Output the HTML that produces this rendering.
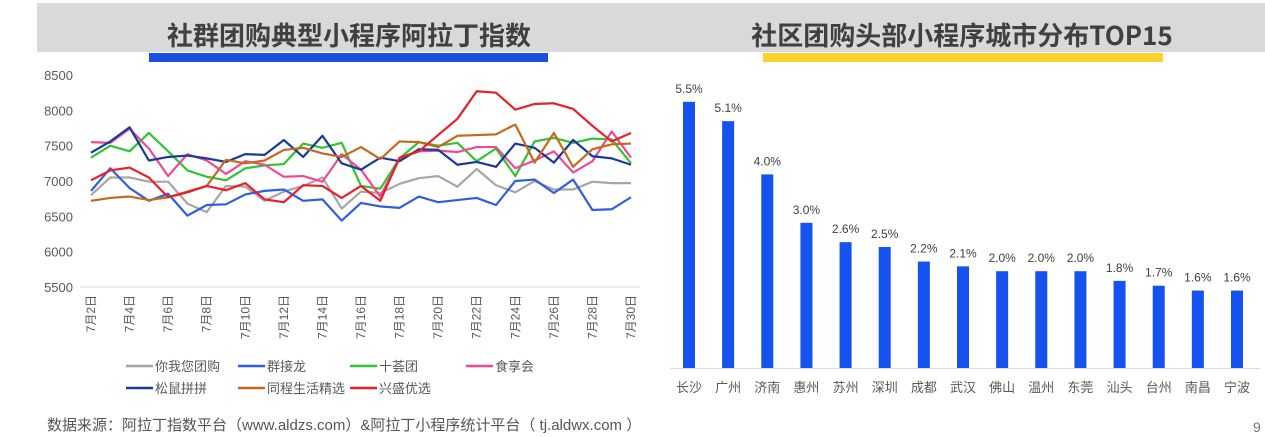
<!DOCTYPE html>
<html><head><meta charset="utf-8"><style>
body{margin:0;width:1265px;height:437px;background:#fff;overflow:hidden;font-family:"Liberation Sans","Noto Sans CJK SC",sans-serif;position:relative}
.abs{position:absolute}
</style></head><body>
<div class="abs" style="left:37px;top:3px;width:1228px;height:49px;background:#d9d9d9"></div>
<div class="abs" style="left:109px;top:16px;width:480px;text-align:center;font-size:26px;font-weight:bold;color:#404040;font-family:'Noto Sans CJK SC',sans-serif">社群团购典型小程序阿拉丁指数</div>
<div class="abs" style="left:149px;top:53px;width:399px;height:9px;background:#1b4fe0"></div>
<div class="abs" style="left:712px;top:16px;width:500px;text-align:center;font-size:26px;font-weight:bold;color:#404040;font-family:'Noto Sans CJK SC',sans-serif">社区团购头部小程序城市分布TOP15</div>
<div class="abs" style="left:763px;top:53px;width:400px;height:9px;background:#fcd22c"></div>
<svg class="abs" style="left:0;top:0" width="1265" height="437" id="svg"></svg>
<div class="abs" style="left:47px;top:414px;font-size:15px;color:#555">数据来源：阿拉丁指数平台（www.aldzs.com）&amp;阿拉丁小程序统计平台（ tj.aldwx.com ）</div>
<div class="abs" style="left:1253px;top:419px;font-size:14px;color:#777">9</div>
<script>
const days=["7月2日","7月3日","7月4日","7月5日","7月6日","7月7日","7月8日","7月9日","7月10日","7月11日","7月12日","7月13日","7月14日","7月15日","7月16日","7月17日","7月18日","7月19日","7月20日","7月21日","7月22日","7月23日","7月24日","7月25日","7月26日","7月27日","7月28日","7月29日","7月30日"];
const yTicks=[5500,6000,6500,7000,7500,8000,8500];
const seriesNames=["你我您团购","群接龙","十荟团","食享会","松鼠拼拼","同程生活精选","兴盛优选"];
const seriesColors=["#a6a6a6","#2f5ee0","#2ec52e","#f0489a","#1a3a9a","#c8681e","#e8202a"];
const sGray=[6800,7050,7050,6990,6990,6680,6560,6930,6920,6720,6850,6930,7050,6610,6850,6830,6960,7040,7070,6920,7170,6940,6840,7000,6880,6880,6990,6970,6970];
const sBlue=[6860,7180,6900,6720,6820,6510,6660,6670,6810,6860,6880,6720,6740,6440,6690,6640,6620,6780,6700,6730,6760,6660,7000,7020,6830,7020,6590,6600,6770];
const sGreen=[7330,7500,7420,7680,7420,7150,7060,7010,7180,7220,7240,7530,7470,7540,6930,6890,7320,7550,7500,7540,7280,7460,7070,7560,7610,7540,7600,7590,7250];
const sPink=[7550,7540,7740,7460,7070,7380,7290,7100,7280,7230,7060,7070,6990,7380,7160,6780,7320,7420,7430,7410,7480,7480,7180,7290,7420,7120,7280,7700,7330];
const sNavy=[7400,7560,7760,7290,7340,7360,7320,7270,7380,7370,7580,7340,7640,7250,7160,7330,7280,7450,7440,7230,7270,7200,7530,7470,7260,7580,7350,7320,7230];
const sOrange=[6720,6760,6780,6730,6770,6850,6930,7300,7250,7290,7440,7470,7390,7340,7480,7310,7560,7550,7480,7640,7650,7660,7800,7260,7680,7200,7450,7520,7530];
const sRed=[7010,7150,7190,7050,6770,6840,6930,6870,6970,6740,6700,6940,6930,6760,6930,6720,7330,7420,7650,7880,8270,8250,8010,8090,8100,8020,7780,7560,7680];
const cities=["长沙","广州","济南","惠州","苏州","深圳","成都","武汉","佛山","温州","东莞","汕头","台州","南昌","宁波"];
const shares=[5.5,5.1,4.0,3.0,2.6,2.5,2.2,2.1,2.0,2.0,2.0,1.8,1.7,1.6,1.6];

const svg=document.getElementById('svg');const NS="http://www.w3.org/2000/svg";
function mk(t,a,txt){const e=document.createElementNS(NS,t);for(const k in a)e.setAttribute(k,a[k]);if(txt!=null)e.textContent=txt;svg.appendChild(e);return e;}
const y=v=>287-(v-5500)/3000*212;
const x=i=>91+i*(631-91)/(days.length-1);
mk('line',{x1:80,x2:640,y1:287,y2:287,stroke:'#d9d9d9','stroke-width':1});
yTicks.forEach(t=>{const e=mk('text',{x:73,y:y(t)+5,'text-anchor':'end','font-size':13,fill:'#595959'},t);

});
days.forEach((d,i)=>{if(i%2)return;const e=mk('text',{x:0,y:0,'font-size':12,fill:'#595959','text-anchor':'end',transform:`translate(${x(i)+4},295) rotate(-90)`},d);

});
const allS=[sGray,sBlue,sGreen,sPink,sNavy,sOrange,sRed];
allS.forEach((s,k)=>{const p=mk('polyline',{points:s.map((v,i)=>x(i)+','+y(v)).join(' '),fill:'none',stroke:seriesColors[k],'stroke-width':2.2,'stroke-linejoin':'round'});

});
const legPos=[[126,366],[238,366],[350,366],[466,366],[126,388],[238,388],[350,388]];
seriesNames.forEach((n,k)=>{const [lx,ly]=legPos[k];
const l=mk('line',{x1:lx,x2:lx+27,y1:ly,y2:ly,stroke:seriesColors[k],'stroke-width':2.5});


const t=mk('text',{x:lx+29,y:ly+5,'font-size':13,fill:'#595959'},n);

});
const by=v=>368-v*48.4;const bx=i=>689+i*(1237-689)/(cities.length-1);
mk('line',{x1:670,x2:1260,y1:368.5,y2:368.5,stroke:'#d9d9d9','stroke-width':1});
shares.forEach((v,i)=>{const r=mk('rect',{x:bx(i)-6,y:by(v),width:12,height:368-by(v),fill:'#1652f0'});


const t=mk('text',{x:bx(i),y:by(v)-9,'text-anchor':'middle','font-size':12,fill:'#404040'},v.toFixed(1)+'%');


const c=mk('text',{x:bx(i),y:392,'text-anchor':'middle','font-size':13,fill:'#595959'},cities[i]);

});
</script>
</body></html>
